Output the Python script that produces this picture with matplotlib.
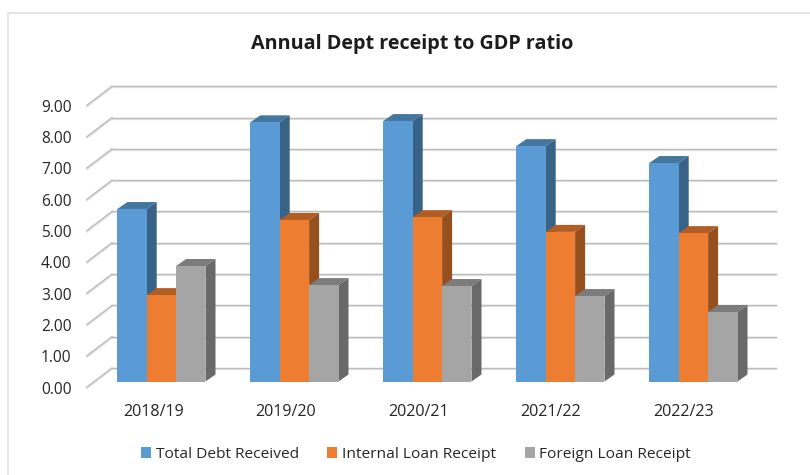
import matplotlib
matplotlib.use("Agg")
import matplotlib.pyplot as plt
from matplotlib.patches import Patch, Polygon
from matplotlib.lines import Line2D

plt.rcParams['font.family'] = ['Open Sans', 'DejaVu Sans']

years = ['2018/19', '2019/20', '2020/21', '2021/22', '2022/23']
total_debt = [5.51, 8.28, 8.32, 7.52, 6.98]
internal_loan = [2.76, 5.16, 5.25, 4.78, 4.74]
foreign_loan = [3.69, 3.08, 3.05, 2.73, 2.22]
y_ticks = [0, 1, 2, 3, 4, 5, 6, 7, 8, 9]

series = [
    ('Total Debt Received', total_debt, '#5b9bd5', '#44779f', '#386387'),
    ('Internal Loan Receipt', internal_loan, '#ed7d31', '#b25d24', '#96501e'),
    ('Foreign Loan Receipt', foreign_loan, '#a5a5a5', '#7c7c7c', '#696969'),
]

W, H = 810, 475
PX_PER_UNIT = 31.3
PX_PER_GROUP = 133.0
BASE_Y = 381.5
FIRST_CENTER = 161.4

fig = plt.figure(figsize=(W / 100, H / 100), dpi=100)
ax = fig.add_axes([0, 0, 1, 1])
ax.set_xlim(-FIRST_CENTER / PX_PER_GROUP, (W - FIRST_CENTER) / PX_PER_GROUP)
ax.set_ylim(-(H - BASE_Y) / PX_PER_UNIT, BASE_Y / PX_PER_UNIT)
ax.axis('off')


def dx(px):
    return px / PX_PER_GROUP


def dy(px):
    return px / PX_PER_UNIT


# chart border, only top and left stay inside the frame
border_x = [7.5 / W, 7.5 / W, 1.0]
border_y = [0.0, 1 - 12.5 / H, 1 - 12.5 / H]
fig.add_artist(Line2D(border_x, border_y, color='#dedede', lw=1.1, transform=fig.transFigure))

# back wall gridlines with the diagonal floor/side ticks
wall_left = dx(87 - FIRST_CENTER)
wall_back = dx(112 - FIRST_CENTER)
wall_right = dx(776 - FIRST_CENTER)
front_drop = dy(-5.5)
back_rise = dy(13.5)
for t in y_ticks:
    for off, col, lw in [(dy(-1), '#e4e4e4', 1.6), (0, '#bcbcbc', 1.0)]:
        ax.add_line(Line2D([wall_back, wall_right], [t + back_rise + off] * 2, color=col, lw=lw, zorder=1))
        ax.add_line(Line2D([wall_left, wall_back], [t + front_drop + off, t + back_rise + off],
                           color=col, lw=lw, zorder=1))
    ax.text(dx(71.5 - FIRST_CENTER), t + front_drop + dy(-0.5), f'{t:.2f}', ha='right', va='center_baseline',
            fontsize=11.2, color='#262626')

# bars: front face from ax.bar, then the top and side faces
bar_w = 29.4 / PX_PER_GROUP
depth_x = dx(10)
depth_y = dy(7)
for s, (name, vals, front, top, side) in enumerate(series):
    for i, v in enumerate(vals):
        left = i + (s - 1.5) * bar_w
        right = left + bar_w
        z = 3 + s * 0.1
        ax.add_patch(Polygon([(left, v), (right, v), (right + depth_x, v + depth_y), (left + depth_x, v + depth_y)],
                             facecolor=top, edgecolor='none', zorder=z))
        ax.add_patch(Polygon([(right, 0), (right + depth_x, depth_y), (right + depth_x, v + depth_y), (right, v)],
                             facecolor=side, edgecolor='none', zorder=z))
    xs = [i + (s - 1) * bar_w for i in range(len(vals))]
    ax.bar(xs, vals, width=bar_w, color=front, edgecolor='none', zorder=3.05 + s * 0.1)

# category labels sit a little left of the bar groups
for i, label in enumerate(years):
    ax.text(dx(153.5 + 132.4 * i - FIRST_CENTER), dy(-28), label, ha='center', va='center_baseline',
            fontsize=11.6, color='#262626')

ax.text(412.5 / W, 1 - 42 / H, 'Annual Dept receipt to GDP ratio', transform=ax.transAxes,
        ha='center', va='center_baseline', fontsize=14.2, fontweight='bold', color='#1c1c1c')

handles = [Patch(facecolor=s[2], edgecolor='none', label=s[0]) for s in series]
ax.legend(handles=handles, ncol=3, frameon=False, loc='center', bbox_to_anchor=(416 / W, 1 - 454.5 / H),
          fontsize=11.15, handlelength=0.64, handleheight=0.64, handletextpad=0.3, columnspacing=1.85,
          labelcolor='#262626')

fig.savefig('out.png', dpi=100, facecolor='white')
